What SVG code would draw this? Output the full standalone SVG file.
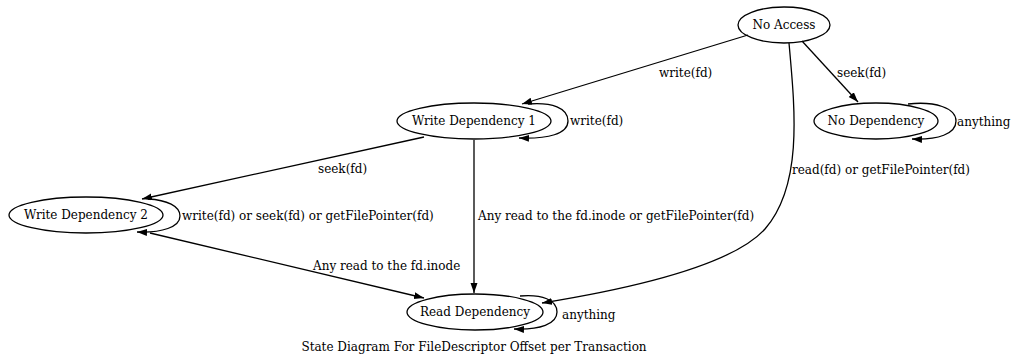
<svg xmlns="http://www.w3.org/2000/svg" width="1013" height="358" viewBox="0 0 1013 358">
<style>
.n ellipse{fill:none;stroke:#000;stroke-width:1.3}
#edges path{fill:none;stroke:#000;stroke-width:1.3}
</style>
<defs>
<marker id="ah" markerUnits="userSpaceOnUse" markerWidth="11" markerHeight="8" refX="10" refY="3.5" orient="auto">
<path d="M0,0 L10,3.5 L0,7 z" fill="#000"/>
</marker>
</defs>
<rect width="1013" height="358" fill="#fff"/>
<g font-family="'DejaVu Serif', serif" font-size="12" fill="#000">
<g id="edges">
<path d="M748,35 L522,104" marker-end="url(#ah)"/>
<path d="M802,41 L858,102" marker-end="url(#ah)"/>
<path d="M908,104 C935,101 956,108 956,121 C956,134 938,140 912,139" marker-end="url(#ah)"/>
<path d="M528,104 C552,102 568,108 568,121 C568,134 548,139 519,138" marker-end="url(#ah)"/>
<path d="M424,137 L142,199" marker-end="url(#ah)"/>
<path d="M474,140 L474,293" marker-end="url(#ah)"/>
<path d="M148,199 C167,200 180,206 180,216 C180,227 162,233 137,232" marker-end="url(#ah)"/>
<path d="M150,233 L424,298" marker-end="url(#ah)"/>
<path d="M789,43 C795,110 803,185 765,229 C728,270 610,292 542,303" marker-end="url(#ah)"/>
<path d="M520,296 C542,294 557,300 557,312 C557,324 540,330 514,329" marker-end="url(#ah)"/>
<text x="659" y="77">write(fd)</text>
<text x="837" y="77">seek(fd)</text>
<text x="957" y="126">anything</text>
<text x="570" y="125">write(fd)</text>
<text x="318" y="173">seek(fd)</text>
<text x="182" y="220">write(fd) or seek(fd) or getFilePointer(fd)</text>
<text x="478" y="220">Any read to the fd.inode or getFilePointer(fd)</text>
<text x="792" y="174">read(fd) or getFilePointer(fd)</text>
<text x="313" y="270">Any read to the fd.inode</text>
<text x="562" y="319">anything</text>
</g>
<g id="no-access" class="n"><ellipse cx="784" cy="25" rx="46" ry="18"/><text x="784" y="29" text-anchor="middle">No Access</text></g>
<g id="no-dependency" class="n"><ellipse cx="876" cy="121" rx="62" ry="18"/><text x="876" y="125" text-anchor="middle">No Dependency</text></g>
<g id="write-dependency-1" class="n"><ellipse cx="474" cy="121" rx="77" ry="18"/><text x="474" y="125" text-anchor="middle">Write Dependency 1</text></g>
<g id="write-dependency-2" class="n"><ellipse cx="86" cy="215" rx="77" ry="18"/><text x="86" y="219" text-anchor="middle">Write Dependency 2</text></g>
<g id="read-dependency" class="n"><ellipse cx="475" cy="312" rx="68" ry="18"/><text x="475" y="316" text-anchor="middle">Read Dependency</text></g>
<text x="474" y="351" text-anchor="middle">State Diagram For FileDescriptor Offset per Transaction</text>
</g>
</svg>
